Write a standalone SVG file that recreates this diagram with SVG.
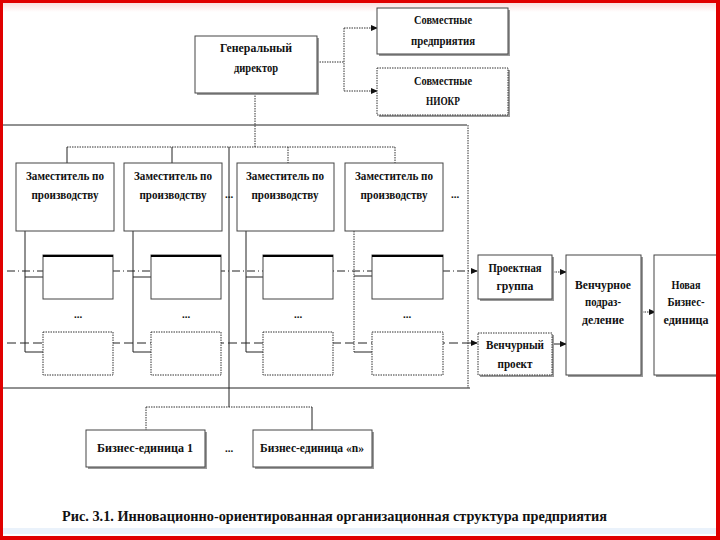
<svg xmlns="http://www.w3.org/2000/svg" width="720" height="540" viewBox="0 0 720 540">
<defs>
<marker id="ah" viewBox="0 0 8 8" refX="7" refY="4" markerWidth="7" markerHeight="7" markerUnits="userSpaceOnUse" orient="auto">
<path d="M0,0.5 L8,4 L0,7.5 z" fill="#111"/>
</marker>
<linearGradient id="band" x1="0" y1="0" x2="0" y2="1">
<stop offset="0" stop-color="#f7c9c9"/>
<stop offset="1" stop-color="#ffffff"/>
</linearGradient>
</defs>
<style>
text{font-family:"Liberation Serif","Times New Roman",serif;font-size:12.5px;font-weight:bold;fill:#111;text-anchor:middle}
.box{fill:#fff;stroke:#444;stroke-width:1}
.dbox{fill:#fff;stroke:#333;stroke-width:1;stroke-dasharray:1.5 1}
.sh{fill:#9a9a9a}
.ln{fill:none;stroke:#222;stroke-width:1}
.dot{fill:none;stroke:#333;stroke-width:1;stroke-dasharray:1.5 1}
.dd{fill:none;stroke:#222;stroke-width:1;stroke-dasharray:8 3 1 3}
.dash{fill:none;stroke:#222;stroke-width:1;stroke-dasharray:9 4}
.cap{font-size:14px;text-anchor:start}
.el{font-size:11px}
</style>
<rect x="0" y="0" width="720" height="540" fill="#fff"/>
<rect x="0" y="3" width="720" height="9" fill="url(#band)" opacity="0.6"/>
<rect x="0" y="528" width="720" height="6" fill="#eaf2fb"/>

<g id="connectors">
<polyline class="dot" points="317,62 344,62"/>
<polyline class="dot" points="344,28 344,91"/>
<line class="dot" x1="344" y1="28" x2="377" y2="28" marker-end="url(#ah)"/>
<line class="dot" x1="344" y1="91" x2="377" y2="91" marker-end="url(#ah)"/>
<line class="dot" x1="255" y1="93" x2="255" y2="147"/>
<line class="dot" x1="67" y1="147" x2="395" y2="147"/>
<line class="ln" x1="67" y1="147" x2="67" y2="163"/>
<line class="ln" x1="172" y1="147" x2="172" y2="163"/>
<line class="dot" x1="288" y1="147" x2="288" y2="163"/>
<line class="dot" x1="395" y1="147" x2="395" y2="163"/>
<line class="ln" x1="3" y1="125" x2="467" y2="125"/>
<line class="dot" x1="468" y1="125" x2="468" y2="388"/>
<line class="ln" x1="3" y1="388" x2="470" y2="388"/>
<line class="ln" x1="229" y1="147" x2="229" y2="407"/>
<polyline class="ln" points="25,231 25,352 43,352"/>
<line class="ln" x1="25" y1="277" x2="43" y2="277"/>
<polyline class="ln" points="133,231 133,352 151,352"/>
<line class="ln" x1="133" y1="277" x2="151" y2="277"/>
<polyline class="ln" points="246,231 246,352 263,352"/>
<line class="ln" x1="246" y1="277" x2="263" y2="277"/>
<polyline class="dot" points="354,231 354,352"/>
<line class="ln" x1="354" y1="352" x2="372" y2="352"/>
<line class="ln" x1="354" y1="276" x2="372" y2="276"/>
<line class="dd" x1="7" y1="271" x2="477" y2="271" marker-end="url(#ah)"/>
<line class="dash" x1="7" y1="343" x2="477" y2="343" marker-end="url(#ah)"/>
<line class="dot" x1="553" y1="272" x2="566" y2="272" marker-end="url(#ah)"/>
<line class="ln" x1="553" y1="344" x2="566" y2="344" marker-end="url(#ah)"/>
<line class="dot" x1="642" y1="312" x2="655" y2="312" marker-end="url(#ah)"/>
<line class="dot" x1="146" y1="407" x2="312" y2="407"/>
<line class="dot" x1="146" y1="407" x2="146" y2="430"/>
<line class="ln" x1="312" y1="407" x2="312" y2="430"/>
</g>

<g id="director">
<rect class="sh" x="197" y="38" width="122" height="57"/>
<rect class="box" x="195" y="36" width="122" height="57"/>
<text x="256" y="52" textLength="72" lengthAdjust="spacingAndGlyphs">Генеральный</text>
<text x="256" y="72" textLength="44" lengthAdjust="spacingAndGlyphs">директор</text>
</g>
<g id="joint-ventures">
<rect class="sh" x="379" y="10" width="131" height="46"/>
<rect class="box" x="377" y="8" width="131" height="46"/>
<text x="443" y="24" textLength="58" lengthAdjust="spacingAndGlyphs">Совместные</text>
<text x="443" y="45" textLength="64" lengthAdjust="spacingAndGlyphs">предприятия</text>
</g>
<g id="joint-rd">
<rect class="sh" x="379" y="70" width="131" height="47"/>
<rect class="dbox" x="377" y="68" width="131" height="47"/>
<text x="443" y="85" textLength="58" lengthAdjust="spacingAndGlyphs">Совместные</text>
<text x="443" y="105" textLength="34" lengthAdjust="spacingAndGlyphs">НИОКР</text>
</g>

<g id="deputy1">
<rect class="box" x="16" y="163" width="98" height="68"/>
<text x="65" y="180" textLength="78" lengthAdjust="spacingAndGlyphs">Заместитель по</text>
<text x="65" y="199" textLength="67" lengthAdjust="spacingAndGlyphs">производству</text>
</g>
<g id="deputy2">
<rect class="box" x="124" y="163" width="98" height="68"/>
<text x="173" y="180" textLength="78" lengthAdjust="spacingAndGlyphs">Заместитель по</text>
<text x="173" y="199" textLength="67" lengthAdjust="spacingAndGlyphs">производству</text>
</g>
<g id="deputy3">
<rect class="box" x="237" y="163" width="97" height="68"/>
<text x="285" y="180" textLength="78" lengthAdjust="spacingAndGlyphs">Заместитель по</text>
<text x="285" y="199" textLength="67" lengthAdjust="spacingAndGlyphs">производству</text>
</g>
<g id="deputy4">
<rect class="box" x="345" y="163" width="98" height="68"/>
<text x="394" y="180" textLength="78" lengthAdjust="spacingAndGlyphs">Заместитель по</text>
<text x="394" y="199" textLength="67" lengthAdjust="spacingAndGlyphs">производству</text>
</g>
<text class="el" x="229" y="198">...</text>
<text class="el" x="455" y="198">...</text>

<g id="sub1a"><rect class="box" x="43" y="255" width="70" height="44"/><line x1="43" y1="256" x2="113" y2="256" stroke="#000" stroke-width="2"/></g>
<g id="sub2a"><rect class="box" x="151" y="255" width="70" height="44"/><line x1="151" y1="256" x2="221" y2="256" stroke="#000" stroke-width="2"/></g>
<g id="sub3a"><rect class="box" x="263" y="255" width="70" height="44"/><line x1="263" y1="256" x2="333" y2="256" stroke="#000" stroke-width="2"/></g>
<g id="sub4a"><rect class="box" x="372" y="255" width="71" height="44"/><line x1="372" y1="256" x2="443" y2="256" stroke="#000" stroke-width="2"/></g>
<g id="sub1b"><rect class="dbox" x="43" y="332" width="70" height="43"/></g>
<g id="sub2b"><rect class="dbox" x="151" y="332" width="70" height="43"/></g>
<g id="sub3b"><rect class="dbox" x="263" y="332" width="70" height="43"/></g>
<g id="sub4b"><rect class="dbox" x="372" y="332" width="71" height="43"/></g>
<text class="el" x="78" y="318">...</text>
<text class="el" x="186" y="318">...</text>
<text class="el" x="298" y="318">...</text>
<text class="el" x="407" y="318">...</text>

<g id="project-group">
<rect class="sh" x="480" y="257" width="74" height="44"/>
<rect class="box" x="478" y="255" width="74" height="44"/>
<text x="515" y="272" textLength="53" lengthAdjust="spacingAndGlyphs">Проектная</text>
<text x="515" y="290" textLength="37" lengthAdjust="spacingAndGlyphs">группа</text>
</g>
<g id="venture-project">
<rect class="sh" x="480" y="335" width="74" height="42"/>
<rect class="dbox" x="478" y="333" width="74" height="42"/>
<text x="515" y="349" textLength="58" lengthAdjust="spacingAndGlyphs">Венчурный</text>
<text x="515" y="368" textLength="35" lengthAdjust="spacingAndGlyphs">проект</text>
</g>
<g id="venture-division">
<rect class="sh" x="568" y="257" width="75" height="120"/>
<rect class="box" x="566" y="255" width="75" height="120"/>
<text x="603" y="289" textLength="56" lengthAdjust="spacingAndGlyphs">Венчурное</text>
<text x="603" y="306" textLength="36" lengthAdjust="spacingAndGlyphs">подраз-</text>
<text x="603" y="324" textLength="42" lengthAdjust="spacingAndGlyphs">деление</text>
</g>
<g id="new-unit">
<rect class="sh" x="656" y="257" width="64" height="120"/>
<rect class="box" x="654" y="255" width="64" height="120"/>
<text x="686" y="289" textLength="29" lengthAdjust="spacingAndGlyphs">Новая</text>
<text x="686" y="306" textLength="37" lengthAdjust="spacingAndGlyphs">Бизнес-</text>
<text x="686" y="324" textLength="45" lengthAdjust="spacingAndGlyphs">единица</text>
</g>

<g id="bu1">
<rect class="sh" x="88" y="432" width="119" height="37"/>
<rect class="box" x="86" y="430" width="119" height="37"/>
<text x="145" y="452" textLength="96" lengthAdjust="spacingAndGlyphs">Бизнес-единица 1</text>
</g>
<g id="bun">
<rect class="sh" x="255" y="432" width="119" height="37"/>
<rect class="box" x="253" y="430" width="119" height="37"/>
<text x="312" y="452" textLength="104" lengthAdjust="spacingAndGlyphs">Бизнес-единица «n»</text>
</g>
<text class="el" x="229" y="452">...</text>

<text class="cap" x="62" y="521" textLength="545" lengthAdjust="spacingAndGlyphs">Рис. 3.1. Инновационно-ориентированная организационная структура предприятия</text>

<g id="border">
<rect x="0" y="0" width="720" height="3" fill="#e00000"/>
<rect x="0" y="0" width="3" height="540" fill="#e00000"/>
<rect x="716" y="0" width="4" height="540" fill="#e00000"/>
<rect x="0" y="536" width="720" height="4" fill="#e00000"/>
</g>
</svg>
